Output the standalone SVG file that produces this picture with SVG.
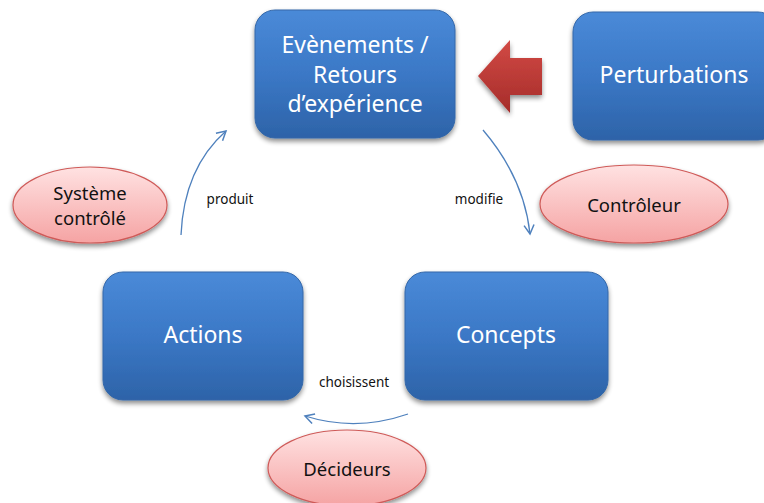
<svg xmlns="http://www.w3.org/2000/svg" width="764" height="503" viewBox="0 0 764 503">
<defs>
<linearGradient id="gBlue" x1="0" y1="0" x2="0" y2="1">
<stop offset="0" stop-color="#4a8ad8"/>
<stop offset="0.5" stop-color="#3b78c6"/>
<stop offset="1" stop-color="#2d63a8"/>
</linearGradient>
<linearGradient id="gPink" x1="0" y1="0" x2="0" y2="1">
<stop offset="0" stop-color="#ffe2e2"/>
<stop offset="1" stop-color="#f5a3a3"/>
</linearGradient>
<linearGradient id="gRed" x1="0" y1="0" x2="0" y2="1">
<stop offset="0" stop-color="#d24a45"/>
<stop offset="1" stop-color="#a52c29"/>
</linearGradient>
<filter id="sh" x="-10%" y="-10%" width="130%" height="130%">
<feGaussianBlur in="SourceAlpha" stdDeviation="2.5"/>
<feOffset dx="0" dy="3" result="b"/>
<feComponentTransfer><feFuncA type="linear" slope="0.45"/></feComponentTransfer>
<feMerge><feMergeNode/><feMergeNode in="SourceGraphic"/></feMerge>
</filter>
<marker id="arr" viewBox="0 0 12 12" refX="10" refY="6" markerWidth="12" markerHeight="12" markerUnits="userSpaceOnUse" orient="auto">
<path d="M1,1 L10,6 L1,11" fill="none" stroke="#4f81bd" stroke-width="1.5"/>
</marker>
</defs>
<style>
.box{fill:url(#gBlue);stroke:#3467a8;stroke-width:1;filter:url(#sh)}
.bt{font-family:"Noto Sans","Open Sans",sans-serif;font-size:23px;fill:#ffffff;text-anchor:middle}
.ell{fill:url(#gPink);stroke:#cf5a58;stroke-width:1.2;filter:url(#sh)}
.et{font-family:"Noto Sans","Open Sans",sans-serif;font-size:18.5px;fill:#111111;text-anchor:middle}
.con{fill:none;stroke:#4f81bd;stroke-width:1.3;marker-end:url(#arr)}
.lbl{font-family:"Noto Sans","Open Sans",sans-serif;font-size:13.5px;fill:#111111;text-anchor:middle}
</style>
<rect width="764" height="503" fill="#ffffff"/>
<g id="connectors">
<path class="con" d="M181,235 Q184,168 226,131"/>
<path class="con" d="M483,130 Q524,178 530,234"/>
<path class="con" d="M408,414 Q356,432 305,416"/>
<text class="lbl" x="230" y="204">produit</text>
<text class="lbl" x="479" y="204">modifie</text>
<text class="lbl" x="354" y="387">choisissent</text>
</g>
<g id="evenements">
<rect class="box" x="255" y="10" width="200" height="128" rx="20"/>
<text class="bt" x="355" y="53">Evènements /</text>
<text class="bt" x="355" y="83">Retours</text>
<text class="bt" x="355" y="112">d’expérience</text>
</g>
<g id="perturbations">
<rect class="box" x="573" y="12" width="205" height="128" rx="20"/>
<text class="bt" x="674" y="83">Perturbations</text>
</g>
<g id="fleche">
<polygon points="478,76 510,40 510,58 542,58 542,95 510,95 510,113" fill="url(#gRed)" filter="url(#sh)"/>
</g>
<g id="actions">
<rect class="box" x="103" y="272" width="200" height="128" rx="20"/>
<text class="bt" x="203" y="343">Actions</text>
</g>
<g id="concepts">
<rect class="box" x="405" y="272" width="203" height="128" rx="20"/>
<text class="bt" x="506" y="343">Concepts</text>
</g>
<g id="systeme">
<ellipse class="ell" cx="90" cy="205" rx="77" ry="38"/>
<text class="et" x="90" y="200">Système</text>
<text class="et" x="90" y="225">contrôlé</text>
</g>
<g id="controleur">
<ellipse class="ell" cx="634" cy="204" rx="94" ry="39"/>
<text class="et" x="634" y="212">Contrôleur</text>
</g>
<g id="decideurs">
<ellipse class="ell" cx="347" cy="468" rx="79" ry="38"/>
<text class="et" x="347" y="476">Décideurs</text>
</g>
</svg>
